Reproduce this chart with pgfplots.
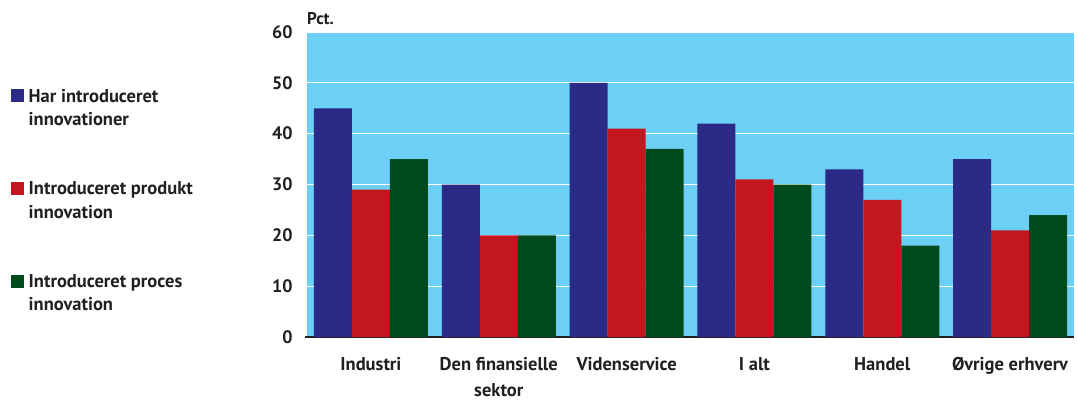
\documentclass[border=0pt]{standalone}
\usepackage{fontspec}
\setmainfont{PT Sans}
\usepackage{pgfplots}
\pgfplotsset{compat=1.18}
\definecolor{cblue}{HTML}{2B2A87}
\definecolor{cred}{HTML}{C4161F}
\definecolor{cgreen}{HTML}{004B1E}
\definecolor{cbg}{HTML}{6CCFF6}
\definecolor{ctext}{HTML}{231F20}
\begin{document}
\begin{tikzpicture}[x=1pt,y=1pt]
\useasboundingbox (0,0) rectangle (1078,400);
\begin{axis}[
  at={(307pt,63pt)}, anchor=south west,
  scale only axis, width=767pt, height=305pt,
  xmin=-0.5, xmax=5.5, ymin=0, ymax=60,
  axis background/.style={fill=cbg},
  ybar=0pt, bar width=38pt,
  ymajorgrids, grid style={white, line width=1.3pt},
  axis x line*=bottom, axis y line*=left,
  x axis line style={ctext, line width=1.2pt, shorten <=-2pt},
  y axis line style={draw=none},
  major tick length=0pt,
  ytick={0,10,...,60},
  xtick={0,...,5},
  xticklabels={Industri, {Den finansielle\\sektor}, Videnservice, I alt, Handel, Øvrige erhverv},
  xticklabel style={font=\fontsize{18.5}{26}\selectfont\bfseries, text=ctext, align=center, yshift=-17pt},
  yticklabel style={font=\fontsize{18}{20}\selectfont\bfseries, text=ctext, xshift=-11pt},
  /pgf/number format/assume math mode=true,
  clip=false,
]
\addplot[fill=cblue, draw=none] coordinates {(0,45) (1,30) (2,50) (3,42) (4,33) (5,35)};
\addplot[fill=cred, draw=none] coordinates {(0,29) (1,20) (2,41) (3,31) (4,27) (5,21)};
\addplot[fill=cgreen, draw=none] coordinates {(0,35) (1,20) (2,37) (3,30) (4,18) (5,24)};
\end{axis}
\tikzset{lg/.style={anchor=base west, inner sep=0, text=ctext, font=\fontsize{18.5}{22}\selectfont\bfseries}}
\node[anchor=base west, inner sep=0, text=ctext, font=\fontsize{17}{18}\selectfont\bfseries] at (307,375) {Pct.};
\fill[cblue] (11,298) rectangle (24,311);
\fill[cred] (11,205) rectangle (24,218);
\fill[cgreen] (11,112) rectangle (24,125);
\node[lg] at (28.5,298) {Har introduceret};
\node[lg] at (28.5,275) {innovationer};
\node[lg] at (28.5,206) {Introduceret produkt};
\node[lg] at (28.5,182) {innovation};
\node[lg] at (28.5,113) {Introduceret proces};
\node[lg] at (28.5,90) {innovation};
\end{tikzpicture}
\end{document}
